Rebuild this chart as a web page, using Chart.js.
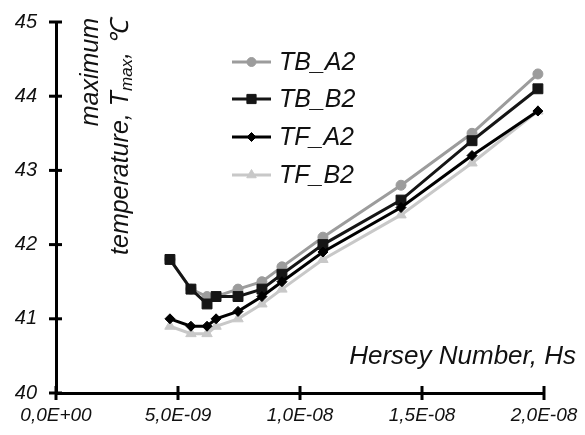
<!DOCTYPE html>
<html>
<head>
  <meta charset="UTF-8">
  <title>Maximum temperature vs Hersey Number</title>
  <style>
    html, body { margin: 0; padding: 0; background: #fff; }
    #wrap { width: 585px; height: 435px; }
  </style>
</head>
<body>
  <div id="wrap"><canvas id="chart"></canvas></div>

  <script src="https://cdn.jsdelivr.net/npm/chart.js"></script>
  <script>
    // Hersey number of each operating point
    const hersey = [4.67e-9, 5.53e-9, 6.19e-9, 6.56e-9, 7.46e-9, 8.44e-9, 9.26e-9, 10.94e-9, 14.14e-9, 17.05e-9, 19.75e-9];
    // maximum temperature, deg C
    const tbA2 = [41.8, 41.4, 41.3, 41.3, 41.4, 41.5, 41.7, 42.1, 42.8, 43.5, 44.3];
    const tbB2 = [41.8, 41.4, 41.2, 41.3, 41.3, 41.4, 41.6, 42.0, 42.6, 43.4, 44.1];
    const tfA2 = [41.0, 40.9, 40.9, 41.0, 41.1, 41.3, 41.5, 41.9, 42.5, 43.2, 43.8];
    const tfB2 = [40.9, 40.8, 40.8, 40.9, 41.0, 41.2, 41.4, 41.8, 42.4, 43.1, 43.8];

    const seriesNames = ["TB_A2", "TB_B2", "TF_A2", "TF_B2"];
    const xTicks = [0, 5e-9, 1e-8, 1.5e-8, 2e-8];
    const xTickLabels = ["0,0E+00", "5,0E-09", "1,0E-08", "1,5E-08", "2,0E-08"];
    const yTicks = [40, 41, 42, 43, 44, 45];

    const FONT = "'Liberation Sans', Arial, sans-serif";

    function pts(ys) {
      return hersey.map((x, i) => ({ x: x, y: ys[i] }));
    }

    function series(label, ys, color, style, radius, order) {
      return {
        label: label,
        data: pts(ys),
        borderColor: color,
        backgroundColor: color,
        borderWidth: 3,
        pointStyle: style,
        pointRadius: radius,
        pointBorderWidth: 1,
        pointBorderColor: color,
        pointBackgroundColor: color,
        tension: 0,
        order: order,
      };
    }

    // axis cross ticks, legend and axis titles
    const decor = {
      id: "decor",
      afterDraw(chart) {
        const ctx = chart.ctx;
        const xs = chart.scales.x;
        const ys = chart.scales.y;
        const area = chart.chartArea;

        ctx.save();
        ctx.strokeStyle = "#000";
        ctx.lineWidth = 3;
        xs.ticks.forEach((t) => {
          const px = xs.getPixelForValue(t.value);
          ctx.beginPath();
          ctx.moveTo(px, area.bottom - 7);
          ctx.lineTo(px, area.bottom + 7);
          ctx.stroke();
        });
        ys.ticks.forEach((t) => {
          const py = ys.getPixelForValue(t.value);
          ctx.beginPath();
          ctx.moveTo(area.left - 7, py);
          ctx.lineTo(area.left + 6, py);
          ctx.stroke();
        });

        // legend
        const rows = [62, 99, 137, 175];
        ctx.font = "italic 25px " + FONT;
        ctx.textBaseline = "middle";
        ctx.textAlign = "left";
        chart.data.datasets.forEach((ds, i) => {
          const y = rows[i];
          ctx.strokeStyle = ds.borderColor;
          ctx.fillStyle = ds.backgroundColor;
          ctx.lineWidth = 3;
          ctx.beginPath();
          ctx.moveTo(232, y);
          ctx.lineTo(271, y);
          ctx.stroke();
          ctx.lineWidth = 1;
          Chart.helpers.drawPoint(ctx, { pointStyle: ds.pointStyle, radius: ds.pointRadius - 0.5, rotation: 0, borderWidth: 1 }, 251.5, y);
          ctx.fillStyle = "#111";
          ctx.fillText(ds.label, 279, y + 1);
        });

        // x title
        ctx.fillStyle = "#111";
        ctx.textBaseline = "alphabetic";
        ctx.textAlign = "right";
        ctx.font = "italic 26px " + FONT;
        ctx.fillText("Hersey Number, Hs", 576, 364);

        // y title (two rotated lines)
        ctx.textAlign = "left";
        ctx.font = "italic 25px " + FONT;
        ctx.save();
        ctx.translate(98, 18);
        ctx.rotate(-Math.PI / 2);
        const w1 = ctx.measureText("maximum").width;
        ctx.fillText("maximum", -w1, 0);
        ctx.restore();

        ctx.save();
        ctx.translate(128, 20);
        ctx.rotate(-Math.PI / 2);
        const big = "italic 25px " + FONT;
        const small = "italic 17px " + FONT;
        const parts = [
          ["temperature, T", big, 0],
          ["max", small, 4],
          [", \u2103", big, 0],
        ];
        let total = 0;
        parts.forEach((p) => { ctx.font = p[1]; total += ctx.measureText(p[0]).width; });
        let cx = -total;
        parts.forEach((p) => {
          ctx.font = p[1];
          ctx.fillText(p[0], cx, p[2]);
          cx += ctx.measureText(p[0]).width;
        });
        ctx.restore();

        ctx.restore();
      },
    };

    const chart = new Chart(document.getElementById("chart").getContext("2d"), {
      type: "line",
      data: {
        datasets: [
          series(seriesNames[0], tbA2, "#9c9c9c", "circle", 5, 3),
          series(seriesNames[1], tbB2, "#151515", "rect", 7, 2),
          series(seriesNames[2], tfA2, "#000000", "rectRot", 5, 1),
          series(seriesNames[3], tfB2, "#c8c8c8", "triangle", 6, 4),
        ],
      },
      options: {
        responsive: true,
        maintainAspectRatio: false,
        animation: false,
        devicePixelRatio: 1,
        layout: { padding: { left: 0, right: 41, top: 22, bottom: 0 } },
        plugins: {
          legend: { display: false },
          tooltip: { enabled: false },
        },
        scales: {
          x: {
            type: "linear",
            min: 0,
            max: 2e-8,
            afterBuildTicks: (s) => { s.ticks = xTicks.map((v) => ({ value: v })); },
            afterFit: (s) => { s.height = 42; s.paddingLeft = 0; s.paddingRight = 0; },
            grid: { display: false, drawTicks: false },
            border: { color: "#000", width: 3 },
            ticks: {
              callback: (v, i) => xTickLabels[i],
              font: { family: FONT, size: 19, style: "italic" },
              color: "#111",
              padding: 11,
              maxRotation: 0,
              autoSkip: false,
            },
          },
          y: {
            min: 40,
            max: 45,
            afterBuildTicks: (s) => { s.ticks = yTicks.map((v) => ({ value: v })); },
            afterFit: (s) => { s.width = 56; s.paddingTop = 0; s.paddingBottom = 0; },
            grid: { display: false, drawTicks: false },
            border: { color: "#000", width: 3 },
            ticks: {
              font: { family: FONT, size: 20, style: "italic" },
              color: "#111",
              padding: 19,
              autoSkip: false,
            },
          },
        },
      },
      plugins: [decor],
    });
  </script>
</body>
</html>
